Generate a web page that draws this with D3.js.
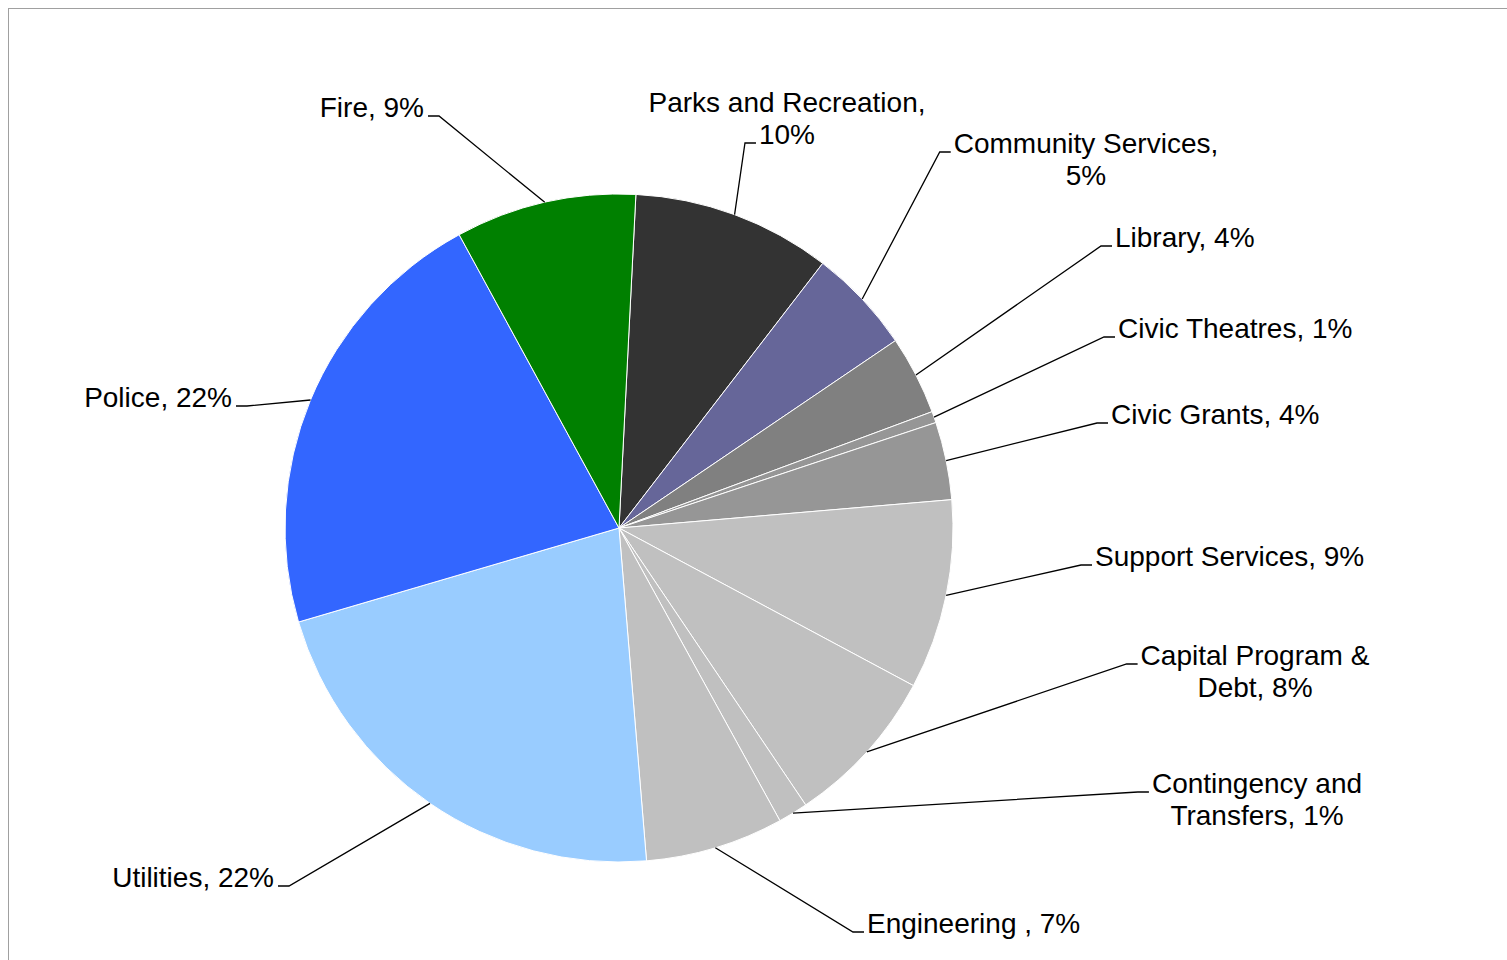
<!DOCTYPE html>
<html>
<head>
<meta charset="utf-8">
<script src="https://cdn.jsdelivr.net/npm/d3@7"></script>
<style>
  html, body { margin: 0; padding: 0; background: #fff; }
  svg { display: block; }
  text { font-family: "Liberation Sans", Arial, sans-serif; font-size: 28px; fill: #000; }
</style>
</head>
<body>
<svg id="chart" width="1507" height="960"></svg>
<script>
// Budget share by department (percent of total)
const categories = [
  "Parks and Recreation", "Community Services", "Library", "Civic Theatres",
  "Civic Grants", "Support Services", "Capital Program & Debt",
  "Contingency and Transfers", "Engineering ", "Utilities", "Police", "Fire"
];
const values = [9.64, 5.08, 3.82, 0.55, 3.76, 9.18, 7.74, 1.44, 6.69, 21.78, 21.61, 8.75];
const colors = [
  "#333333", "#666699", "#808080", "#969696", "#969696", "#c0c0c0",
  "#c0c0c0", "#c0c0c0", "#c0c0c0", "#99ccff", "#3366ff", "#008000"
];

// Label placement: anchor point, alignment, words on the first line (if wrapped),
// which line the leader attaches to
const labelLayout = [
  { x: 787,  y: 112, anchor: "middle", breakAt: 3, attach: 1 },
  { x: 1086, y: 153, anchor: "middle", breakAt: 2, attach: 0 },
  { x: 1115, y: 247, anchor: "start" },
  { x: 1118, y: 338, anchor: "start" },
  { x: 1111, y: 424, anchor: "start" },
  { x: 1095, y: 566, anchor: "start" },
  { x: 1255, y: 665, anchor: "middle", breakAt: 3, attach: 0 },
  { x: 1257, y: 793, anchor: "middle", breakAt: 2, attach: 0 },
  { x: 867,  y: 933, anchor: "start" },
  { x: 274,  y: 887, anchor: "end" },
  { x: 232,  y: 407, anchor: "end" },
  { x: 424,  y: 117, anchor: "end" }
];

const cx = 619, cy = 528, radius = 334;
const lineHeight = 32;
const startAngle = 2.9 * Math.PI / 180;

const svg = d3.select("#chart");

// chart area frame
svg.append("rect")
  .attr("x", 8.5).attr("y", 8.5)
  .attr("width", 1520).attr("height", 980)
  .attr("fill", "none")
  .attr("stroke", "#a0a0a0")
  .attr("stroke-width", 1);

const data = categories.map((c, i) => ({ name: c, value: values[i], color: colors[i], layout: labelLayout[i] }));
const total = d3.sum(values);
const pct = d3.format(".0%");

const pie = d3.pie()
  .sort(null)
  .value(d => d.value)
  .startAngle(startAngle)
  .endAngle(startAngle + 2 * Math.PI);

const arcs = pie(data);
const arc = d3.arc().innerRadius(0).outerRadius(radius);

const g = svg.append("g").attr("transform", `translate(${cx},${cy})`);

g.selectAll("path.slice")
  .data(arcs)
  .join("path")
  .attr("class", "slice")
  .attr("d", arc)
  .attr("fill", d => d.data.color)
  .attr("stroke", "#ffffff")
  .attr("stroke-width", 1)
  .attr("stroke-linejoin", "round");

// labels with leader lines
const labels = svg.append("g");
const leaders = svg.append("g");

arcs.forEach(a => {
  const L = a.data.layout;
  const full = `${a.data.name}, ${pct(a.data.value / total)}`;
  const words = full.split(" ");
  let lines = [full];
  if (L.breakAt) {
    lines = [words.slice(0, L.breakAt).join(" "), words.slice(L.breakAt).join(" ")];
  }
  const t = labels.append("text")
    .attr("text-anchor", L.anchor)
    .attr("x", L.x).attr("y", L.y);
  const spans = lines.map((ln, i) => t.append("tspan")
    .attr("x", L.x)
    .attr("y", L.y + i * lineHeight)
    .text(ln));

  // where the leader meets the label
  const ai = L.attach || 0;
  const w = spans[ai].node().getComputedTextLength();
  let left;
  if (L.anchor === "start") left = L.x;
  else if (L.anchor === "end") left = L.x - w;
  else left = L.x - w / 2;
  const ly = L.y + ai * lineHeight - 1;

  // start of leader on the slice edge at mid-angle
  const mid = (a.startAngle + a.endAngle) / 2;
  const sx = cx + radius * Math.sin(mid);
  const sy = cy - radius * Math.cos(mid);

  let hookEnd, elbow;
  if (sx < left) {
    hookEnd = left - 3;
    elbow = hookEnd - 11;
  } else {
    hookEnd = left + w + 4;
    elbow = hookEnd + 11;
  }

  leaders.append("path")
    .attr("d", d3.line()([[sx, sy], [elbow, ly], [hookEnd, ly]]))
    .attr("fill", "none")
    .attr("stroke", "#000")
    .attr("stroke-width", 1.3);
});
</script>
</body>
</html>
